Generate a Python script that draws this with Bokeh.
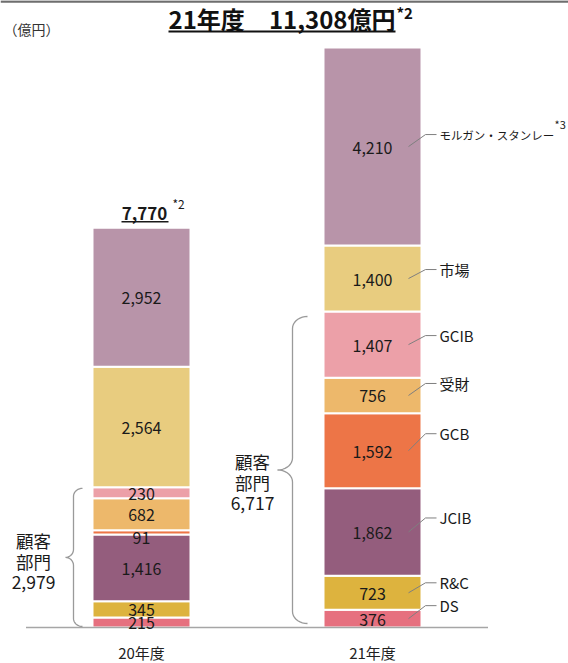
import numpy as np
from bokeh.plotting import figure
from bokeh.models import ColumnDataSource, Range1d
from bokeh.core.properties import value
from bokeh.embed import file_html
from bokeh.resources import INLINE

# ---------------- data ----------------
years = ["20年度", "21年度"]
segments = ["DS", "R&C", "JCIB", "GCB", "受財", "GCIB", "市場", "モルガン・スタンレー"]
values_20 = [215, 345, 1416, 91, 682, 230, 2564, 2952]
values_21 = [376, 723, 1862, 1592, 756, 1407, 1400, 4210]
colors = ["#e6707f", "#ddb33e", "#945d7d", "#ed7547", "#edb86b", "#eca0a8", "#e8cc7f", "#b894a9"]
totals = [7770, 11308]
client_totals = [2979, 6717]
client_segments = 6          # the first six segments form 顧客部門
client_name = ["顧客", "部門"]
unit_label = "（億円）"
title_year = "21年度"
title_unit = "億円"
note_total = "*2"
note_ms = "*3"

# ---------------- layout helpers ----------------
FONT = "Noto Sans CJK JP"
W, H = 568, 663
PX_X = 231.0                      # pixels per category step
BAR_PX = 98
UPY = sum(values_21) / 580.0      # data units per pixel
X0_PAGE = 141                     # pixel x of first bar centre
BASE_PAGE = 627                   # pixel y of the baseline


def X(px):
    return (px - X0_PAGE) / PX_X


def DX(px):
    return px / PX_X


def DY(px):
    return px * UPY


def Y(py):
    return (BASE_PAGE - py) * UPY


p = figure(width=W, height=H, output_backend="svg", toolbar_location=None,
           x_range=Range1d(X(0), X(W)), y_range=Range1d(Y(H), Y(0)),
           min_border_left=0, min_border_right=0, min_border_top=0,
           min_border_bottom=0)
p.xgrid.grid_line_color = None
p.ygrid.grid_line_color = None
p.outline_line_color = None
p.xaxis.visible = False
p.yaxis.visible = False
p.background_fill_color = "white"

# thin rule at the very top
p.segment(x0=[X(0)], y0=[Y(1)], x1=[X(W)], y1=[Y(1)], line_color="#6e6e6e", line_width=2.5)

xs = np.arange(len(years))
data = {"x": xs}
for i, s in enumerate(segments):
    data[s] = [values_20[i], values_21[i]]
src = ColumnDataSource(data)
p.vbar_stack(segments, x="x", width=BAR_PX / PX_X, fill_color=colors,
             line_color="white", line_width=2, source=src)

# baseline
p.segment(x0=[xs[0] - 0.5], y0=[0], x1=[xs[-1] + 0.5], y1=[0],
          line_color="#a6a6a6", line_width=1.5)

# category labels
p.text(x=list(xs), y=[0] * len(xs), text=years, y_offset=25,
       text_align="center", text_baseline="middle",
       text_font=value(FONT), text_font_size="15px", text_color="#222222")

# value labels
vals = np.array([values_20, values_21], dtype=float)
cum = np.cumsum(vals, axis=1)
centers = cum - vals / 2
nudge_20 = {3: 5}
lx, ly, lt, lo = [], [], [], []
for i in range(len(years)):
    for j in range(len(segments)):
        lx.append(xs[i]); ly.append(centers[i, j])
        lt.append(f"{int(vals[i, j]):,}")
        lo.append(1 + (nudge_20.get(j, 0) if i == 0 else 0))
p.text(x=lx, y=ly, text=lt, y_offset=lo, text_align="center", text_baseline="middle",
       text_font=value(FONT), text_font_size="16px", text_color="#1a1a1a")

# segment names with leader lines (21年度 bar)
label_off = [-13, -10, -14, -17, -12, -9, -9, -12]
bx = xs[1]
lead_xs, lead_ys, name_y = [], [], []
for j in range(len(segments)):
    c = centers[1, j]
    yl = c - DY(label_off[j])
    lead_xs.append([bx + DX(36), bx + DX(53), bx + DX(64)])
    lead_ys.append([c, yl, yl])
    name_y.append(yl)
p.multi_line(xs=lead_xs, ys=lead_ys, line_color="#7f7f7f", line_width=1)
p.text(x=[bx + DX(67)] * (len(segments) - 1), y=name_y[:-1], text=segments[:-1],
       text_align="left", text_baseline="middle",
       text_font=value(FONT), text_font_size="15px", text_color="#1a1a1a")
p.text(x=[bx + DX(67)], y=[name_y[-1]], text=[segments[-1]],
       text_align="left", text_baseline="middle",
       text_font=value(FONT), text_font_size="11.5px", text_color="#1a1a1a")
p.text(x=[bx + DX(182)], y=[name_y[-1] + DY(11)], text=[note_ms],
       text_align="left", text_baseline="middle",
       text_font=value(FONT), text_font_size="11px", text_color="#1a1a1a")


# braces for 顧客部門
def brace(x_end, x_line, x_tip, y_top, y_bot, r):
    pts = []
    ym = (y_top + y_bot) / 2

    def arc(cx, cy, rx, ry, a0, a1, n=10):
        for t in np.linspace(np.radians(a0), np.radians(a1), n):
            pts.append((cx + rx * np.cos(t), cy - ry * np.sin(t)))
    arc(x_end, y_top + r, x_end - x_line, r, 90, 180)
    arc(x_tip, ym - r, x_line - x_tip, r, 0, -90)
    arc(x_tip, ym + r, x_line - x_tip, r, 90, 0)
    arc(x_end, y_bot - r, x_end - x_line, r, 180, 270)
    return [X(a) for a, b in pts], [Y(b) for a, b in pts]


client_tops = [float(np.sum(v[:client_segments])) for v in (values_20, values_21)]
brace_geo = [(82, 73, 65, 1, 1, 8), (307, 292, 277, 5, 4, 12)]
bxs, bys = [], []
for i, (xe, xl, xt, inset_t, inset_b, r) in enumerate(brace_geo):
    yt = BASE_PAGE - client_tops[i] / UPY + inset_t
    yb = BASE_PAGE - inset_b
    a, b = brace(xe, xl, xt, yt, yb, r)
    bxs.append(a); bys.append(b)
p.multi_line(xs=bxs, ys=bys, line_color="#9a9a9a", line_width=1.3)

brace_lab_dx = [-108, -120]
brace_lab_dy = [4, 13]
blx, bly, blt, blo = [], [], [], []
for i in range(len(years)):
    lines = client_name + [f"{client_totals[i]:,}"]
    for k, t in enumerate(lines):
        blx.append(xs[i] + DX(brace_lab_dx[i]))
        bly.append(client_tops[i] / 2)
        blt.append(t)
        blo.append(brace_lab_dy[i] + (k - 1) * 21)
p.text(x=blx, y=bly, text=blt, y_offset=blo,
       text_align="center", text_baseline="middle",
       text_font=value(FONT), text_font_size="17.5px", text_color="#1a1a1a")

# 20年度 total above bar
top20 = float(np.sum(values_20))
p.text(x=[xs[0] + DX(3)], y=[top20 + DY(14)], text=[f"{totals[0]:,}"],
       text_align="center", text_baseline="middle", text_font_style="bold",
       text_font=value(FONT), text_font_size="17px", text_color="#1a1a1a")
p.segment(x0=[xs[0] - DX(20)], y0=[top20 + DY(6)], x1=[xs[0] + DX(27)], y1=[top20 + DY(6)],
          line_color="#1a1a1a", line_width=1.5)
p.text(x=[xs[0] + DX(31)], y=[top20 + DY(24)], text=[note_total],
       text_align="left", text_baseline="middle",
       text_font=value(FONT), text_font_size="12px", text_color="#1a1a1a")

# title
p.text(x=[X(168)], y=[Y(18)], text=[title_year], text_align="left", text_baseline="middle",
       text_font=value(FONT), text_font_style="bold", text_font_size="24px", text_color="#111111")
p.text(x=[X(395)], y=[Y(18)], text=[f"{totals[1]:,}{title_unit}"], text_align="right",
       text_baseline="middle", text_font=value(FONT), text_font_style="bold",
       text_font_size="24px", text_color="#111111")
p.segment(x0=[X(168)], y0=[Y(31)], x1=[X(395)], y1=[Y(31)], line_color="#111111", line_width=2)
p.text(x=[X(396)], y=[Y(12)], text=[note_total], text_align="left", text_baseline="middle",
       text_font=value(FONT), text_font_style="bold", text_font_size="15px", text_color="#111111")

# unit label
p.text(x=[X(3)], y=[Y(28)], text=[unit_label], text_align="left", text_baseline="middle",
       text_font=value(FONT), text_font_size="14px", text_color="#333333")

open("out.html", "w").write(file_html(p, INLINE))
